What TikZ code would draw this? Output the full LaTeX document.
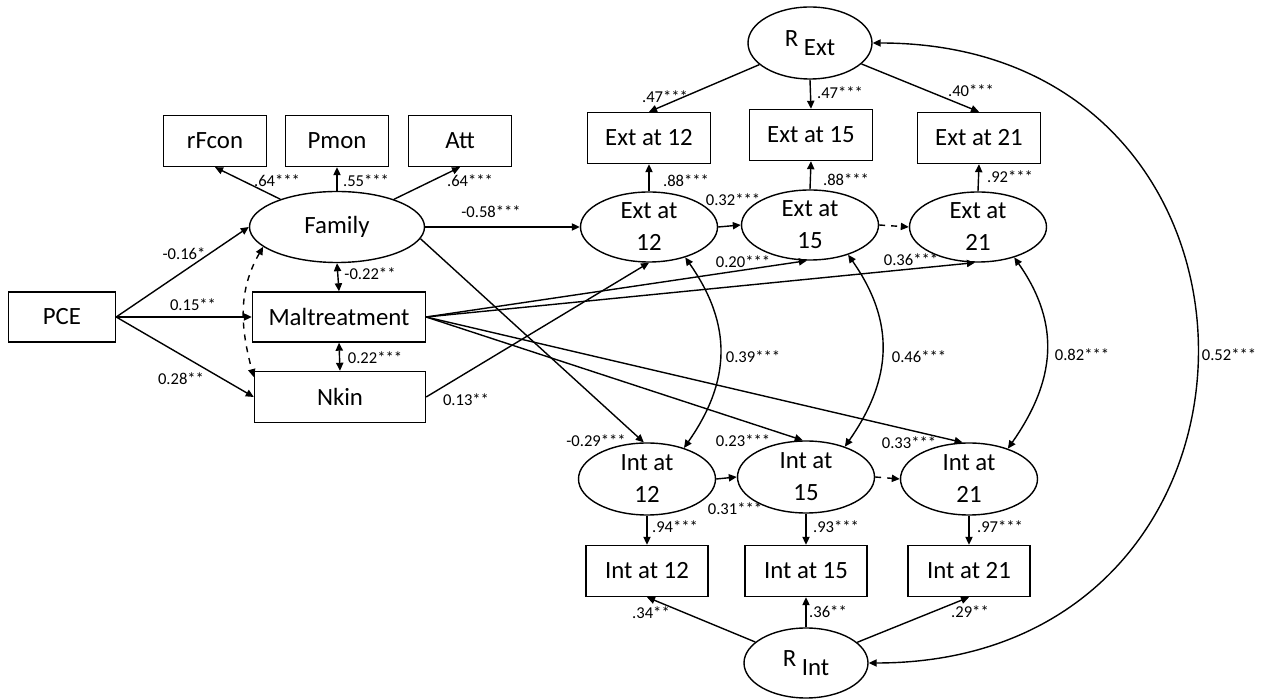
\documentclass[tikz,border=0pt]{standalone}
\usepackage{fontspec}
\setmainfont{Carlito}
\usetikzlibrary{shapes.geometric,arrows.meta}

\begin{document}
\begin{tikzpicture}[x=0.5pt,y=-0.5pt,
        every node/.style={font=\fontsize{12.4}{16}\selectfont},
        box/.style={draw,rectangle,minimum height=25.5pt,minimum width=61.5pt,inner sep=0pt,line width=0.7pt},
        lat/.style={draw,ellipse,minimum width=68.5pt,minimum height=35pt,inner sep=0pt,align=center,line width=0.7pt},
        lbl/.style={font=\fontsize{8.3}{10}\selectfont,inner sep=0pt},
        arr/.style={-{Triangle[length=4pt,width=3.6pt]},line width=0.7pt},
        dbl/.style={{Triangle[length=4pt,width=3.6pt]}-{Triangle[length=4pt,width=3.6pt]},line width=0.7pt}]
   \useasboundingbox (0,0) rectangle (1265,699);

   \node (rF) [box,minimum width=51.5pt] at (215,141) {rFcon};
   \node (Pm) [box,minimum width=51.5pt] at (337,141) {Pmon};
   \node (At) [box,minimum width=51.5pt] at (460,141) {Att};
   \node (Fam) [lat,minimum width=87.5pt,minimum height=35.5pt] at (337,227) {Family};
   \node (PCE) [box,minimum width=53.5pt,minimum height=25pt] at (62,317) {PCE};
   \node (Malt) [box,minimum width=86.5pt,minimum height=25pt] at (339,317) {Maltreatment};
   \node (Nkin) [box,minimum width=85.5pt] at (340,397) {Nkin};

   \node (RE) [lat,minimum width=62pt,minimum height=36pt] at (810,43) {R \raisebox{-4.5pt}{Ext}};
   \node (XB12) [box] at (649,138) {Ext at 12};
   \node (XB15) [box] at (811,135) {Ext at 15};
   \node (XB21) [box] at (979,138) {Ext at 21};
   \node (E12) [lat] at (649,227) {Ext at\\12};
   \node (E15) [lat] at (810,225) {Ext at\\15};
   \node (E21) [lat] at (978,227) {Ext at\\21};

   \node (I12) [lat,minimum height=36pt] at (647,479) {Int at\\12};
   \node (I15) [lat,minimum height=36pt] at (806,477) {Int at\\15};
   \node (I21) [lat,minimum height=36pt] at (969,479) {Int at\\21};
   \node (IB12) [box,minimum width=61pt] at (647,571) {Int at 12};
   \node (IB15) [box,minimum width=61pt] at (806,571) {Int at 15};
   \node (IB21) [box,minimum width=61pt] at (969,571) {Int at 21};
   \node (RI) [lat,minimum width=62pt,minimum height=35pt] at (806,663) {R \raisebox{-4.5pt}{Int}};

   \draw[arr] (Fam) -- (rF.south);
   \draw[arr] (Fam.north) -- (Pm.south);
   \draw[arr] (Fam) -- (At.south);
   \draw[arr] (PCE.east) -- (Fam.west);
   \draw[arr] (PCE.east) -- (Malt.west);
   \draw[arr] (PCE.east) -- (Nkin.west);
   \draw[dbl] (Fam.south) -- (Malt.north);
   \draw[dbl] (Malt.south) -- (Nkin.north);
   \draw[dbl,dashed] (Fam.195) to[out=240,in=105] (Nkin.167);

   \draw[arr] (Fam.east) -- (E12.west);
   \draw[arr] (Fam.-8) -- (I12.95);
   \draw[arr] (Malt.east) -- (E15.265);
   \draw[arr] (Malt.east) -- (E21.265);
   \draw[arr] (Malt.east) -- (I15.95);
   \draw[arr] (Malt.east) -- (I21.100);
   \draw[arr] (Nkin.east) -- (E12.south);

   \draw[arr] (E12.east) -- (E15.west);
   \draw[arr,dashed] (E15.east) -- (E21.west);
   \draw[arr] (I12.east) -- (I15.west);
   \draw[arr,dashed] (I15.east) -- (I21.west);

   \draw[arr] (E12.north) -- (XB12.south);
   \draw[arr] (E15.north) -- (XB15.south);
   \draw[arr] (E21.north) -- (XB21.south);
   \draw[arr] (I12.south) -- (IB12.north);
   \draw[arr] (I15.south) -- (IB15.north);
   \draw[arr] (I21.south) -- (IB21.north);
   \draw[arr] (RE) -- (XB12.north);
   \draw[arr] (RE.south) -- (XB15.north);
   \draw[arr] (RE) -- (XB21.north);
   \draw[arr] (RI) -- (IB12.south);
   \draw[arr] (RI.north) -- (IB15.south);
   \draw[arr] (RI) -- (IB21.south);

   \draw[dbl] (E12.-40) to[out=-55,in=55,looseness=1.1] (I12.40);
   \draw[dbl] (E15.-38) to[out=-55,in=55,looseness=1.1] (I15.38);
   \draw[dbl] (E21.-40) to[out=-55,in=55,looseness=1.1] (I21.38);
   \draw[dbl] (RE.east) to[out=0,in=0,looseness=1.79] (RI.east);

   \node (l1) [lbl] at (277,181) {.64***};
   \node (l2) [lbl] at (366,181) {.55***};
   \node (l3) [lbl] at (470,181) {.64***};
   \node (l4) [lbl] at (184,254) {-0.16*};
   \node (l5) [lbl] at (370,274) {-0.22**};
   \node (l6) [lbl] at (193,305) {0.15**};
   \node (l7) [lbl] at (375,358) {0.22***};
   \node (l8) [lbl] at (181,379) {0.28**};
   \node (l9) [lbl] at (491,212) {-0.58***};
   \node (l10) [lbl] at (665,97) {.47***};
   \node (l11) [lbl] at (840,93) {.47***};
   \node (l12) [lbl] at (971,91) {.40***};
   \node (l13) [lbl] at (686,181) {.88***};
   \node (l14) [lbl] at (733,200) {0.32***};
   \node (l15) [lbl] at (846,180) {.88***};
   \node (l16) [lbl] at (1010,177) {.92***};
   \node (l17) [lbl] at (743,262) {0.20***};
   \node (l18) [lbl] at (911,260) {0.36***};
   \node (l19) [lbl] at (466,400) {0.13**};
   \node (l20) [lbl] at (753,357) {0.39***};
   \node (l21) [lbl] at (919,357) {0.46***};
   \node (l22) [lbl] at (1082,355) {0.82***};
   \node (l23) [lbl] at (1229,355) {0.52***};
   \node (l24) [lbl] at (596,441) {-0.29***};
   \node (l25) [lbl] at (743,441) {0.23***};
   \node (l26) [lbl] at (909,443) {0.33***};
   \node (l27) [lbl] at (735,509) {0.31***};
   \node (l28) [lbl] at (675,527) {.94***};
   \node (l29) [lbl] at (836,527) {.93***};
   \node (l30) [lbl] at (1000,527) {.97***};
   \node (l31) [lbl] at (651,613) {.34**};
   \node (l32) [lbl] at (828,612) {.36**};
   \node (l33) [lbl] at (970,612) {.29**};

\end{tikzpicture}
\end{document}
